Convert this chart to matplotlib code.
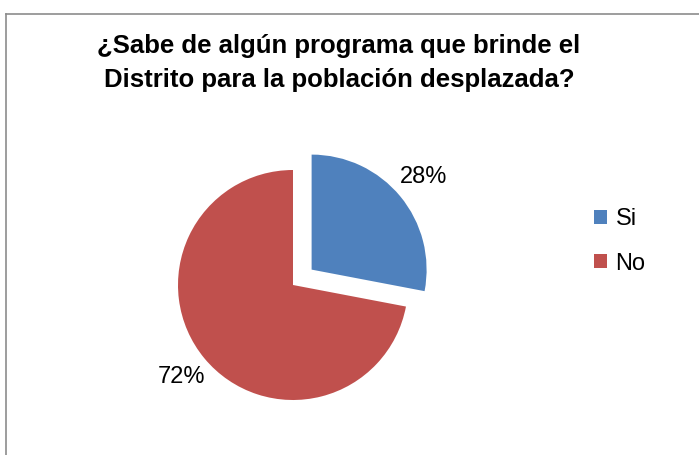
import matplotlib
matplotlib.use("Agg")
import matplotlib.pyplot as plt
from matplotlib.lines import Line2D

plt.rcParams['font.family'] = ['Liberation Sans', 'DejaVu Sans']

title = "¿Sabe de algún programa que brinde el\nDistrito para la población desplazada?"
categories = ["Si", "No"]
values = [28, 72]
colors = ["#4F81BD", "#C0504D"]

W, H = 699, 455
fig = plt.figure(figsize=(W / 100, H / 100), dpi=100)
ax = fig.add_axes([0, 0, 1, 1])

R = 115
wedges, texts, autotexts = ax.pie(
    values, colors=colors, startangle=90, counterclock=False,
    explode=[0.21 * R, 0], radius=R, center=(293, H - 285),
    autopct='%1.0f%%', pctdistance=1.26,
    textprops=dict(fontsize=17, color='black'),
    wedgeprops=dict(linewidth=0),
)
ax.set_xlim(0, W)
ax.set_ylim(0, H)
ax.set_aspect('equal')
ax.axis('off')

# chart frame (partly outside the picture)
fig.add_artist(Line2D([6 / W, 6 / W], [0, 1 - 14 / H], transform=fig.transFigure,
                      color='#8c8c8c', lw=1.2))
fig.add_artist(Line2D([6 / W, 1], [1 - 14 / H, 1 - 14 / H], transform=fig.transFigure,
                      color='#8c8c8c', lw=1.2))

fig.text(339 / W, 1 - 63 / H, title, ha='center', va='center', fontsize=18.5,
         fontweight='bold', linespacing=1.5)

leg = ax.legend(wedges, categories, loc='upper left',
                bbox_to_anchor=(573 / W, 1 - 187 / H), bbox_transform=fig.transFigure,
                frameon=False, fontsize=17, handlelength=0.55, handleheight=0.55,
                handletextpad=0.35, labelspacing=0.95)

fig.savefig("out.png", dpi=100)
